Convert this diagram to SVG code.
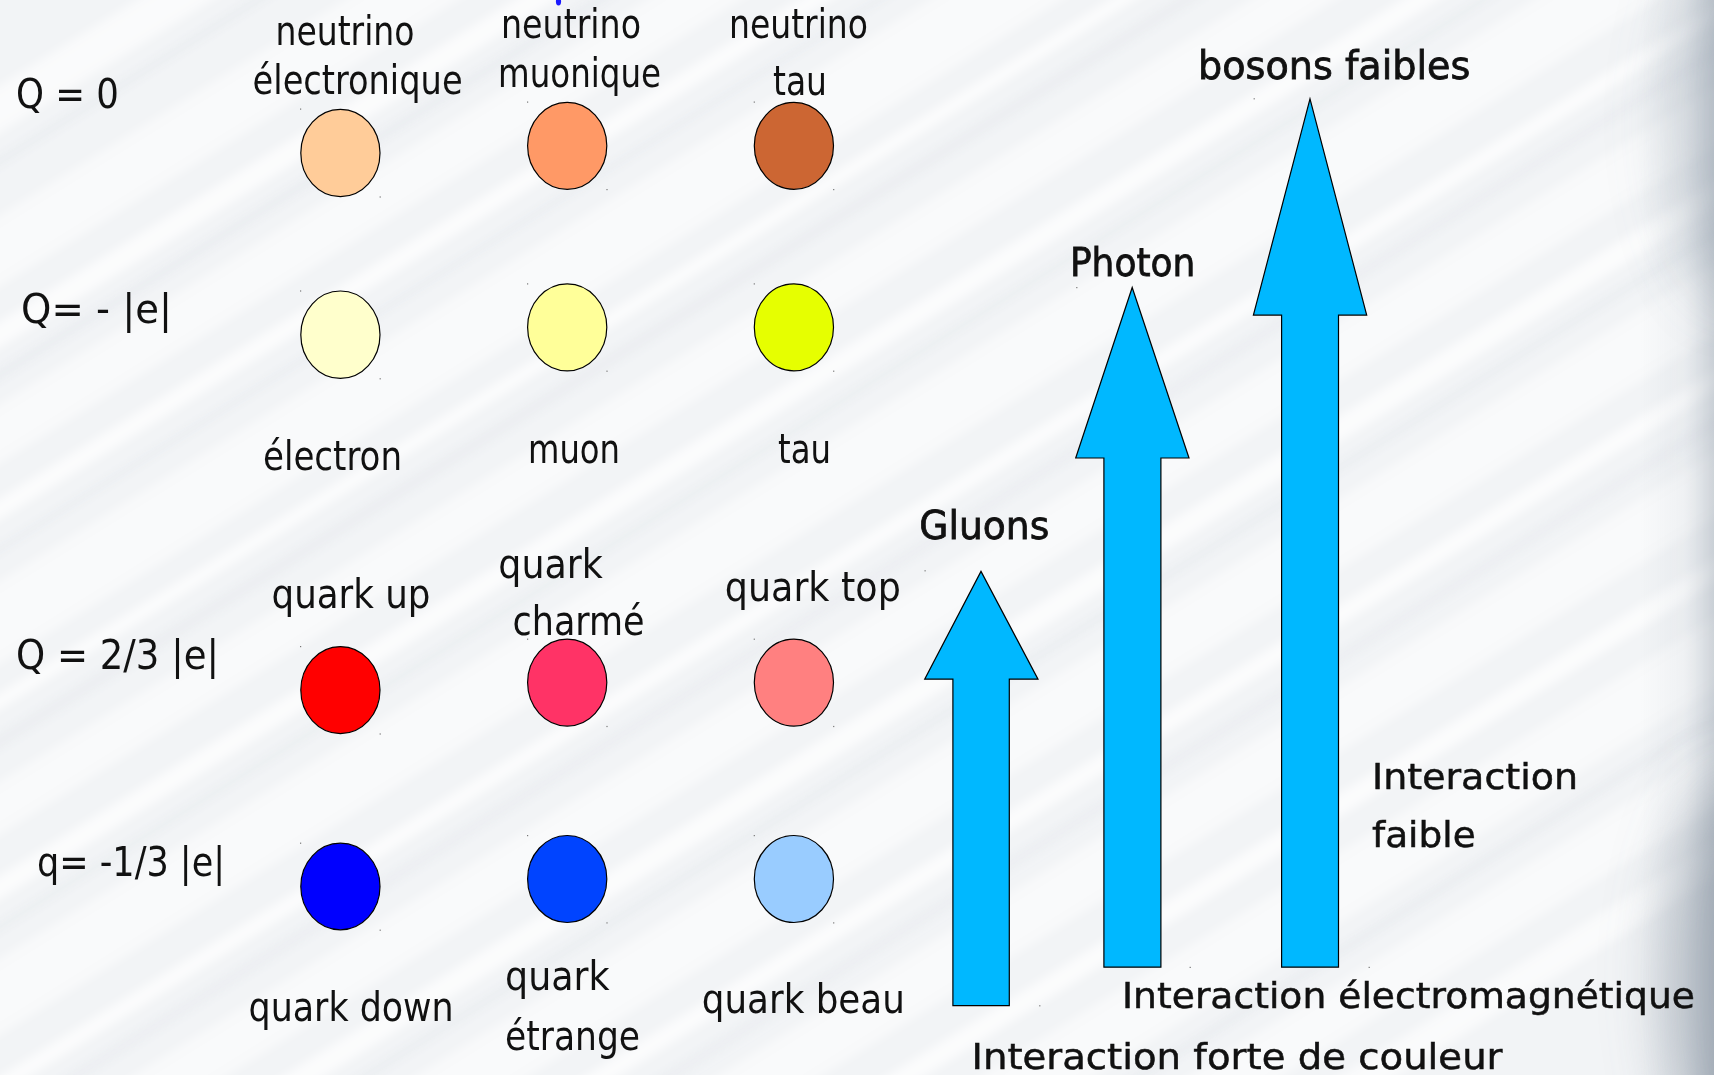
<svg xmlns="http://www.w3.org/2000/svg" width="1714" height="1075" viewBox="0 0 1714 1075">
  <defs>
    <style>
      .t { font-family: "Liberation Sans Narrow", "DejaVu Sans Condensed", "Liberation Sans", sans-serif; font-size: 41px; fill: #111; }
      .m { font-family: "DejaVu Sans", "Liberation Sans", sans-serif; font-size: 36px; fill: #111; stroke: #111; stroke-width: 0.5px; }
      .b { font-family: "DejaVu Sans", "Liberation Sans", sans-serif; font-size: 39px; fill: #111; stroke: #111; stroke-width: 0.8px; }
      .p { stroke: #000; stroke-width: 1.2; }
      .arrow { fill: #00B8FF; stroke: #000; stroke-width: 1.2; stroke-linejoin: miter; }
      .dot { fill: #777; }
      .streak { fill: #ffffff; }
      .streak-g { fill: #dde2e7; }
    </style>
    <filter id="soft" x="-10%" y="-50%" width="120%" height="200%">
      <feGaussianBlur stdDeviation="5"/>
    </filter>
    <filter id="haze" x="-50%" y="-50%" width="200%" height="200%">
      <feGaussianBlur stdDeviation="30"/>
    </filter>
    <linearGradient id="edge" x1="1640" y1="0" x2="1714" y2="0" gradientUnits="userSpaceOnUse">
      <stop offset="0" stop-color="#9aa6b3" stop-opacity="0"/>
      <stop offset="0.6" stop-color="#9aa6b3" stop-opacity="0.1"/>
      <stop offset="1" stop-color="#7f8c9a" stop-opacity="0.35"/>
    </linearGradient>
  </defs>

  <!-- background: pale brushed surface with diagonal streaks -->
  <rect x="0" y="0" width="1714" height="1075" fill="#f2f4f6"/>
  <g filter="url(#soft)" transform="rotate(-32 857 537)">
    <rect class="streak" x="-600" y="-300" width="2900" height="40" opacity="0.6"/>
    <rect class="streak-g" x="-600" y="-240" width="2900" height="8" opacity="0.35"/>
    <rect class="streak" x="-600" y="-190" width="2900" height="60" opacity="0.5"/>
    <rect class="streak" x="-600" y="-100" width="2900" height="22" opacity="0.7"/>
    <rect class="streak-g" x="-600" y="-60" width="2900" height="10" opacity="0.35"/>
    <rect class="streak" x="-600" y="-30" width="2900" height="50" opacity="0.5"/>
    <rect class="streak" x="-600" y="50" width="2900" height="18" opacity="0.7"/>
    <rect class="streak-g" x="-600" y="90" width="2900" height="6" opacity="0.35"/>
    <rect class="streak" x="-600" y="120" width="2900" height="70" opacity="0.5"/>
    <rect class="streak" x="-600" y="215" width="2900" height="14" opacity="0.7"/>
    <rect class="streak-g" x="-600" y="250" width="2900" height="12" opacity="0.3"/>
    <rect class="streak" x="-600" y="290" width="2900" height="45" opacity="0.5"/>
    <rect class="streak" x="-600" y="370" width="2900" height="20" opacity="0.7"/>
    <rect class="streak-g" x="-600" y="410" width="2900" height="7" opacity="0.35"/>
    <rect class="streak" x="-600" y="440" width="2900" height="65" opacity="0.5"/>
    <rect class="streak" x="-600" y="540" width="2900" height="16" opacity="0.7"/>
    <rect class="streak-g" x="-600" y="575" width="2900" height="10" opacity="0.3"/>
    <rect class="streak" x="-600" y="610" width="2900" height="50" opacity="0.5"/>
    <rect class="streak" x="-600" y="690" width="2900" height="22" opacity="0.7"/>
    <rect class="streak-g" x="-600" y="730" width="2900" height="8" opacity="0.35"/>
    <rect class="streak" x="-600" y="760" width="2900" height="60" opacity="0.5"/>
    <rect class="streak" x="-600" y="850" width="2900" height="18" opacity="0.7"/>
    <rect class="streak-g" x="-600" y="890" width="2900" height="10" opacity="0.3"/>
    <rect class="streak" x="-600" y="920" width="2900" height="55" opacity="0.5"/>
    <rect class="streak" x="-600" y="1010" width="2900" height="20" opacity="0.7"/>
    <rect class="streak" x="-600" y="1060" width="2900" height="60" opacity="0.5"/>
    <rect class="streak-g" x="-600" y="1140" width="2900" height="9" opacity="0.35"/>
    <rect class="streak" x="-600" y="1170" width="2900" height="50" opacity="0.5"/>
    <rect class="streak" x="-600" y="1250" width="2900" height="30" opacity="0.6"/>
  </g>
  <!-- darker shading along the right edge, strongest at the corners -->
  <rect x="1640" y="0" width="74" height="1075" fill="url(#edge)"/>
  <g filter="url(#haze)">
    <ellipse cx="1740" cy="120" rx="70" ry="180" fill="#8995a3" opacity="0.35"/>
    <ellipse cx="1740" cy="980" rx="75" ry="200" fill="#7d8998" opacity="0.5"/>
  </g>

  <!-- partially visible mark at the top edge -->
  <ellipse cx="558.5" cy="1.5" rx="2.6" ry="4" fill="#1a1aff"/>

  <!-- charge labels -->
  <g id="charge-labels">
    <text class="t" x="16" y="108" textLength="103" lengthAdjust="spacingAndGlyphs">Q = 0</text>
    <text class="t" x="21" y="323" textLength="151" lengthAdjust="spacingAndGlyphs">Q= - |e|</text>
    <text class="t" x="16" y="669" textLength="203" lengthAdjust="spacingAndGlyphs">Q = 2/3 |e|</text>
    <text class="t" x="37" y="876" textLength="188" lengthAdjust="spacingAndGlyphs">q= -1/3 |e|</text>
  </g>

  <!-- leptons, neutral -->
  <g id="nu-e">
    <ellipse class="p" cx="340.4" cy="153" rx="39.6" ry="43.7" fill="#FFCC99"/>
    <rect class="dot" x="300" y="108.5" width="1.2" height="1.2"/><rect class="dot" x="379.6" y="196.4" width="1.2" height="1.2"/>
    <text class="t" x="275.5" y="45" textLength="139" lengthAdjust="spacingAndGlyphs">neutrino</text>
    <text class="t" x="252.6" y="94" textLength="210" lengthAdjust="spacingAndGlyphs">électronique</text>
  </g>
  <g id="nu-mu">
    <ellipse class="p" cx="567.2" cy="145.8" rx="39.6" ry="43.5" fill="#FF9966"/>
    <rect class="dot" x="527" y="101.5" width="1.2" height="1.2"/><rect class="dot" x="606.4" y="189" width="1.2" height="1.2"/>
    <text class="t" x="501" y="38.3" textLength="140" lengthAdjust="spacingAndGlyphs">neutrino</text>
    <text class="t" x="498" y="87.3" textLength="163" lengthAdjust="spacingAndGlyphs">muonique</text>
  </g>
  <g id="nu-tau">
    <ellipse class="p" cx="793.9" cy="145.8" rx="39.6" ry="43.5" fill="#CC6633"/>
    <rect class="dot" x="753.7" y="101.5" width="1.2" height="1.2"/><rect class="dot" x="833.1" y="189" width="1.2" height="1.2"/>
    <text class="t" x="729" y="38.3" textLength="139" lengthAdjust="spacingAndGlyphs">neutrino</text>
    <text class="t" x="773" y="95" textLength="54" lengthAdjust="spacingAndGlyphs">tau</text>
  </g>

  <!-- leptons, charged -->
  <g id="electron">
    <ellipse class="p" cx="340.4" cy="334.7" rx="39.6" ry="43.7" fill="#FFFFCC"/>
    <rect class="dot" x="300" y="290.4" width="1.2" height="1.2"/><rect class="dot" x="379.6" y="378.2" width="1.2" height="1.2"/>
    <text class="t" x="263" y="470" textLength="139" lengthAdjust="spacingAndGlyphs">électron</text>
  </g>
  <g id="muon">
    <ellipse class="p" cx="567.2" cy="327.3" rx="39.6" ry="43.5" fill="#FFFF99"/>
    <rect class="dot" x="527" y="283.3" width="1.2" height="1.2"/><rect class="dot" x="606.4" y="370.6" width="1.2" height="1.2"/>
    <text class="t" x="528" y="462.7" textLength="92" lengthAdjust="spacingAndGlyphs">muon</text>
  </g>
  <g id="tau">
    <ellipse class="p" cx="793.9" cy="327.3" rx="39.6" ry="43.5" fill="#E6FF00"/>
    <rect class="dot" x="753.7" y="283.3" width="1.2" height="1.2"/><rect class="dot" x="833.1" y="370.6" width="1.2" height="1.2"/>
    <text class="t" x="778" y="462.7" textLength="53" lengthAdjust="spacingAndGlyphs">tau</text>
  </g>

  <!-- quarks, charge +2/3 -->
  <g id="quark-up">
    <ellipse class="p" cx="340.4" cy="690.1" rx="39.6" ry="43.5" fill="#FF0000"/>
    <rect class="dot" x="300" y="646" width="1.2" height="1.2"/><rect class="dot" x="379.6" y="733.4" width="1.2" height="1.2"/>
    <text class="t" x="271.5" y="608.2" textLength="159" lengthAdjust="spacingAndGlyphs">quark up</text>
  </g>
  <g id="quark-charm">
    <ellipse class="p" cx="567.2" cy="682.6" rx="39.6" ry="43.5" fill="#FF3366"/>
    <rect class="dot" x="527" y="638.6" width="1.2" height="1.2"/><rect class="dot" x="606.4" y="725.9" width="1.2" height="1.2"/>
    <text class="t" x="498.3" y="577.7" textLength="104.5" lengthAdjust="spacingAndGlyphs">quark</text>
    <text class="t" x="512.6" y="635" textLength="132" lengthAdjust="spacingAndGlyphs">charmé</text>
  </g>
  <g id="quark-top">
    <ellipse class="p" cx="793.9" cy="682.6" rx="39.6" ry="43.5" fill="#FF8080"/>
    <rect class="dot" x="753.7" y="638.6" width="1.2" height="1.2"/><rect class="dot" x="833.1" y="725.9" width="1.2" height="1.2"/>
    <text class="t" x="724.8" y="600.8" textLength="176" lengthAdjust="spacingAndGlyphs">quark top</text>
  </g>

  <!-- quarks, charge -1/3 -->
  <g id="quark-down">
    <ellipse class="p" cx="340.4" cy="886.5" rx="39.6" ry="43.3" fill="#0000FF"/>
    <rect class="dot" x="300" y="842.6" width="1.2" height="1.2"/><rect class="dot" x="379.6" y="929.6" width="1.2" height="1.2"/>
    <text class="t" x="248.6" y="1020.7" textLength="205" lengthAdjust="spacingAndGlyphs">quark down</text>
  </g>
  <g id="quark-strange">
    <ellipse class="p" cx="567.2" cy="879" rx="39.6" ry="43.5" fill="#0044FF"/>
    <rect class="dot" x="527" y="835" width="1.2" height="1.2"/><rect class="dot" x="606.4" y="922.3" width="1.2" height="1.2"/>
    <text class="t" x="505" y="989.5" textLength="104.6" lengthAdjust="spacingAndGlyphs">quark</text>
    <text class="t" x="505" y="1050" textLength="135" lengthAdjust="spacingAndGlyphs">étrange</text>
  </g>
  <g id="quark-bottom">
    <ellipse class="p" cx="793.9" cy="879" rx="39.6" ry="43.5" fill="#99CCFF"/>
    <rect class="dot" x="753.7" y="835" width="1.2" height="1.2"/><rect class="dot" x="833.1" y="922.3" width="1.2" height="1.2"/>
    <text class="t" x="701.8" y="1013.4" textLength="203" lengthAdjust="spacingAndGlyphs">quark beau</text>
  </g>

  <!-- interaction arrows -->
  <g id="arrows">
    <g id="gluons">
      <polygon class="arrow" points="981,571.4 1038,679.2 1009.3,679.2 1009.3,1005.7 952.9,1005.7 952.9,679.2 924.7,679.2"/>
      <rect class="dot" x="924.5" y="570.2" width="1.2" height="1.2"/><rect class="dot" x="1039.2" y="1005.2" width="1.2" height="1.2"/>
      <text class="b" x="919.3" y="539.3" textLength="130" lengthAdjust="spacingAndGlyphs">Gluons</text>
      <text class="m" x="971.5" y="1069" textLength="531" lengthAdjust="spacingAndGlyphs">Interaction forte de couleur</text>
    </g>
    <g id="photon">
      <polygon class="arrow" points="1132.2,287.5 1189,458 1160.9,458 1160.9,967.2 1103.9,967.2 1103.9,458 1075.7,458"/>
      <rect class="dot" x="1076.2" y="287" width="1.2" height="1.2"/><rect class="dot" x="1189.6" y="966.8" width="1.2" height="1.2"/>
      <text class="b" x="1069.9" y="275.5" textLength="125.5" lengthAdjust="spacingAndGlyphs">Photon</text>
      <text class="m" x="1122" y="1008" textLength="573" lengthAdjust="spacingAndGlyphs">Interaction électromagnétique</text>
    </g>
    <g id="weak-bosons">
      <polygon class="arrow" points="1310,98.8 1366.7,315.1 1338.5,315.1 1338.5,967.2 1281.6,967.2 1281.6,315.1 1253.4,315.1"/>
      <rect class="dot" x="1253.6" y="98.2" width="1.2" height="1.2"/><rect class="dot" x="1368.6" y="966.8" width="1.2" height="1.2"/>
      <text class="b" x="1198" y="78.5" textLength="272.4" lengthAdjust="spacingAndGlyphs">bosons faibles</text>
      <text class="m" x="1372" y="789" textLength="206" lengthAdjust="spacingAndGlyphs">Interaction</text>
      <text class="m" x="1372" y="847" textLength="103.7" lengthAdjust="spacingAndGlyphs">faible</text>
    </g>
  </g>
</svg>
